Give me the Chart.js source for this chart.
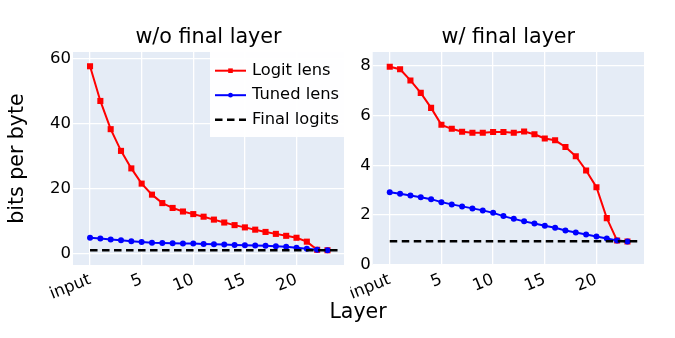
<!DOCTYPE html>
<html lang="en">
<head>
  <meta charset="UTF-8">
  <title>Logit lens vs tuned lens</title>
  <style>
    body {
      margin: 0;
      background: #fff;
      font-family: "DejaVu Sans", sans-serif;
      width: 675px;
      height: 338px;
      position: relative;
      overflow: hidden;
    }
    canvas {
      position: absolute;
      top: 0;
    }
    #leftChart { left: 0; }
    #rightChart { left: 350px; }
    .xlabel {
      position: absolute;
      left: 0;
      width: 716px;
      top: 299px;
      text-align: center;
      font-size: 20.5px;
      color: #000;
    }
  </style>
</head>
<body>

  <canvas id="leftChart" width="350" height="338"></canvas>
  <canvas id="rightChart" width="325" height="338"></canvas>
  <div class="xlabel">Layer</div>

  <script src="https://cdn.jsdelivr.net/npm/chart.js"></script>

  <script>
    // layers 0 (input) .. 23
    const layers = [0, 1, 2, 3, 4, 5, 6, 7, 8, 9, 10, 11, 12, 13, 14, 15, 16, 17, 18, 19, 20, 21, 22, 23];

    // w/o final layer
    const logitNoFinal = [57.7, 47.0, 38.3, 31.6, 26.2, 21.5, 18.1, 15.5, 14.0, 12.9, 12.1, 11.3,
                          10.4, 9.5, 8.7, 8.0, 7.3, 6.6, 6.0, 5.4, 4.8, 3.6, 1.1, 0.95];
    const tunedNoFinal = [4.8, 4.6, 4.3, 4.0, 3.7, 3.5, 3.3, 3.2, 3.1, 3.0, 3.0, 2.9,
                          2.8, 2.7, 2.6, 2.5, 2.4, 2.3, 2.2, 2.0, 1.7, 1.4, 1.1, 0.95];

    // w/ final layer
    const logitFinal = [7.95, 7.85, 7.4, 6.9, 6.3, 5.62, 5.46, 5.34, 5.3, 5.3, 5.33, 5.33,
                        5.3, 5.35, 5.24, 5.07, 5.0, 4.73, 4.36, 3.79, 3.12, 1.88, 0.98, 0.94];
    const tunedFinal = [2.92, 2.86, 2.79, 2.72, 2.64, 2.52, 2.43, 2.35, 2.27, 2.19, 2.09, 1.96,
                        1.85, 1.75, 1.66, 1.57, 1.49, 1.38, 1.30, 1.22, 1.14, 1.06, 0.98, 0.94];

    const finalLogits = 0.95;
    const finalLogitsSpan = [0, 24];

    const xTicks = [0, 5, 10, 15, 20];
    const xTickNames = ['input', '5', '10', '15', '20'];

    const FONT = 'DejaVu Sans';

    function pts(ys) {
      return ys.map((y, i) => ({ x: layers[i], y: y }));
    }

    // plot background
    const bgPlugin = {
      id: 'bg',
      beforeDraw(chart) {
        const a = chart.chartArea;
        const ctx = chart.ctx;
        ctx.save();
        ctx.fillStyle = '#E5ECF6';
        ctx.fillRect(a.left, a.top, a.right - a.left, a.bottom - a.top);
        ctx.restore();
      }
    };

    // legend box in upper right of the left panel
    const legendPlugin = {
      id: 'boxLegend',
      afterDatasetsDraw(chart) {
        const a = chart.chartArea;
        const ctx = chart.ctx;
        const sets = chart.data.datasets;
        const w = 134, h = 85;
        ctx.save();
        ctx.fillStyle = 'rgba(255,255,255,0.95)';
        ctx.fillRect(a.right - w, a.top, w, h);
        ctx.font = '16.3px "' + FONT + '"';
        ctx.textBaseline = 'middle';
        ctx.fillStyle = '#000';
        sets.forEach((ds, i) => {
          const y = a.top + 18.7 + i * 24.5;
          const x0 = a.right - 129, x1 = a.right - 98;
          ctx.strokeStyle = ds.borderColor;
          ctx.lineWidth = ds.borderWidth;
          ctx.setLineDash(ds.borderDash || []);
          ctx.beginPath();
          ctx.moveTo(x0, y);
          ctx.lineTo(x1, y);
          ctx.stroke();
          ctx.setLineDash([]);
          ctx.fillStyle = ds.borderColor;
          const mx = (x0 + x1) / 2;
          if (ds.pointStyle === 'rect') {
            ctx.fillRect(mx - 2.3, y - 2.3, 4.6, 4.6);
          } else if (ds.pointStyle === 'circle' && ds.pointRadius > 0) {
            ctx.beginPath();
            ctx.arc(mx, y, 2.4, 0, Math.PI * 2);
            ctx.fill();
          }
          ctx.fillStyle = '#000';
          ctx.fillText(ds.label, a.right - 92, y);
        });
        ctx.restore();
      }
    };

    function makeChart(id, opts) {
      const ctx = document.getElementById(id).getContext('2d');
      return new Chart(ctx, {
        type: 'scatter',
        data: {
          datasets: [{
            label: 'Logit lens',
            data: pts(opts.logit),
            showLine: true,
            borderColor: '#FF0000',
            backgroundColor: '#FF0000',
            borderWidth: 2,
            pointStyle: 'rect',
            pointRadius: 4.3,
            pointBorderWidth: 0,
            order: 3
          }, {
            label: 'Tuned lens',
            data: pts(opts.tuned),
            showLine: true,
            borderColor: '#0000FF',
            backgroundColor: '#0000FF',
            borderWidth: 2,
            pointStyle: 'circle',
            pointRadius: 3,
            pointBorderWidth: 0,
            order: 2
          }, {
            label: 'Final logits',
            data: finalLogitsSpan.map(x => ({ x: x, y: finalLogits })),
            showLine: true,
            borderColor: '#000000',
            borderWidth: 2.4,
            borderDash: [7.5, 4.5],
            pointRadius: 0,
            pointStyle: 'circle',
            order: 1
          }]
        },
        options: {
          responsive: false,
          animation: false,
          events: [],
          layout: { padding: { left: 0, right: opts.padRight, top: 0, bottom: 0 } },
          plugins: {
            legend: { display: false },
            tooltip: { enabled: false },
            title: {
              display: true,
              text: opts.title,
              color: '#000',
              fullSize: false,
              font: { family: FONT, size: 20.7, weight: 'normal' },
              padding: { top: 24.8, bottom: 2.36 }
            }
          },
          scales: {
            x: {
              type: 'linear',
              min: -1.65,
              max: 24.6,
              afterFit(scale) {
                scale.height = 73;
                scale.paddingLeft = 0;
                scale.paddingRight = 0;
              },
              afterBuildTicks(scale) { scale.ticks = xTicks.map(v => ({ value: v })); },
              grid: { color: '#FFFFFF', lineWidth: 1.3, drawTicks: false },
              border: { display: false },
              ticks: {
                autoSkip: false,
                minRotation: 22,
                maxRotation: 22,
                padding: 5,
                color: '#000',
                font: { family: FONT, size: 16.5 },
                callback: v => xTickNames[xTicks.indexOf(v)]
              }
            },
            y: {
              min: opts.yMin,
              max: opts.yMax,
              afterFit(scale) { scale.width = opts.yWidth; },
              grid: { color: '#FFFFFF', lineWidth: 1.3, drawTicks: false },
              border: { display: false },
              title: {
                display: opts.yTitle !== '',
                text: opts.yTitle,
                color: '#000',
                font: { family: FONT, size: 20.5 },
                padding: { top: 5, bottom: 0 }
              },
              ticks: {
                stepSize: opts.yStep,
                includeBounds: false,
                padding: 2,
                color: '#000',
                font: { family: FONT, size: 16.5 }
              }
            }
          }
        },
        plugins: opts.legend ? [bgPlugin, legendPlugin] : [bgPlugin]
      });
    }

    makeChart('leftChart', {
      title: 'w/o final layer',
      logit: logitNoFinal,
      tuned: tunedNoFinal,
      yMin: -3.6, yMax: 62.1, yStep: 20,
      yWidth: 73, padRight: 6,
      yTitle: 'bits per byte',
      legend: true
    });

    makeChart('rightChart', {
      title: 'w/ final layer',
      logit: logitFinal,
      tuned: tunedFinal,
      yMin: 0, yMax: 8.54, yStep: 2,
      yWidth: 22.7, padRight: 31,
      yTitle: '',
      legend: false
    });
  </script>

</body>
</html>
